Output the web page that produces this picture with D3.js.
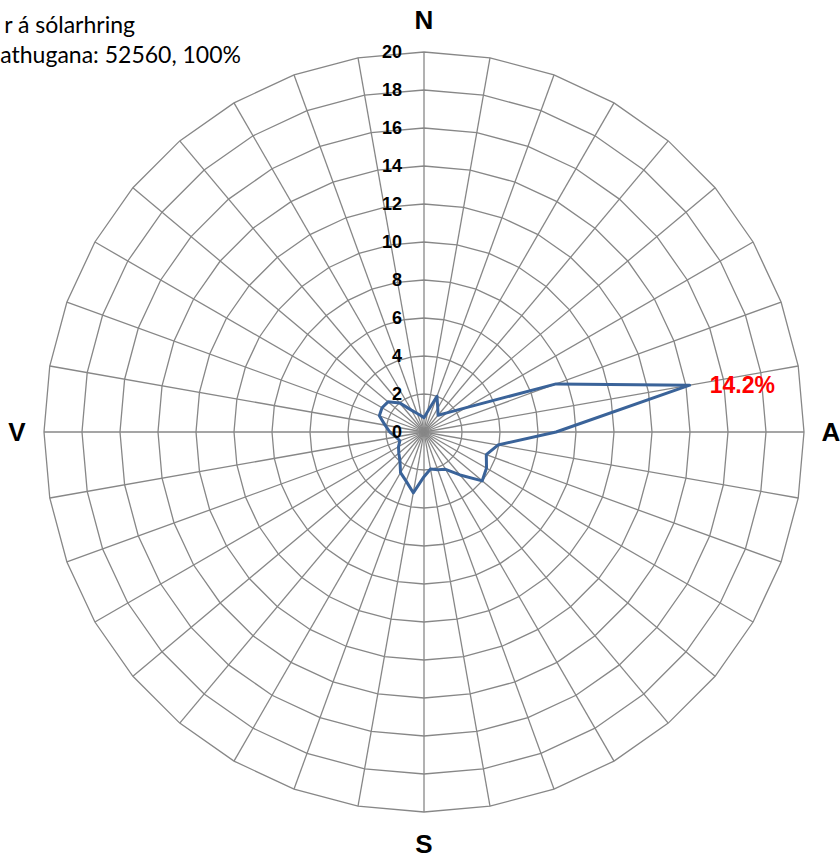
<!DOCTYPE html>
<html><head><meta charset="utf-8">
<script src="https://cdn.jsdelivr.net/npm/d3@7"></script>
<style>body{margin:0;background:#fff;overflow:hidden}</style>
</head><body><svg id="c" width="840" height="861"></svg>
<script>
const categories = ["N","","","","","","","","","A","","","","","","","","","S","","","","","","","","","V","","","","","","","",""];
const values = [0.75,1.1,2.0,1.45,1.15,1.57,2.57,7.4,14.2,6.95,3.95,3.49,3.8,4.0,2.95,2.27,2.11,1.98,2.35,3.25,2.75,2.47,1.97,1.73,1.55,1.35,1.5,1.8,2.08,2.5,2.55,2.47,2.0,1.33,1.04,0.87];
const ticks = [0,2,4,6,8,10,12,14,16,18,20];
const titleLines = ["r á sólarhring","athugana: 52560, 100%"];

const svg = d3.select("#c");
const cx = 424, cy = 432;
const r = d3.scaleLinear().domain([0,20]).range([0,380]);
const ang = d3.scaleLinear().domain([0,categories.length]).range([0,2*Math.PI]);
const idx = d3.range(categories.length);
const g = svg.append("g").attr("transform",`translate(${cx},${cy})`);
const gridColor = "#878787";

// rings
ticks.filter(t=>t>0).forEach(t=>{
  g.append("path")
    .attr("d", d3.lineRadial().angle(i=>ang(i)).radius(r(t)).curve(d3.curveLinearClosed)(idx))
    .attr("fill","none").attr("stroke",gridColor).attr("stroke-width",1.3);
});
// spokes
g.selectAll("line.spoke").data(idx).join("line")
  .attr("x1",0).attr("y1",0)
  .attr("x2",i=>r(20)*Math.sin(ang(i)))
  .attr("y2",i=>-r(20)*Math.cos(ang(i)))
  .attr("stroke",gridColor).attr("stroke-width",1.3);

// data
g.append("path")
  .attr("d", d3.lineRadial().angle((d,i)=>ang(i)).radius(d=>r(d)).curve(d3.curveLinearClosed)(values))
  .attr("fill","none").attr("stroke","#3A6399").attr("stroke-width",3).attr("stroke-linejoin","round");

// tick labels
g.selectAll("text.tick").data(ticks).join("text")
  .attr("x",-22).attr("y",d=>-r(d)).attr("dy","0.36em")
  .attr("text-anchor","end")
  .style("font-family","'Liberation Sans', Arial, sans-serif").style("font-weight","bold").style("font-size","18px")
  .attr("fill","#000").text(d=>d);

// category labels
g.selectAll("text.cat").data(idx.filter(i=>categories[i])).join("text")
  .attr("x",i=>(r(20)+(i%18===0?34:27))*Math.sin(ang(i)))
  .attr("y",i=>-(r(20)+(i%18===0?32:27))*Math.cos(ang(i)))
  .attr("dy","0.36em").attr("text-anchor","middle")
  .style("font-family","'Liberation Sans', Arial, sans-serif").style("font-weight","bold").style("font-size","26px")
  .attr("fill","#000").text(i=>categories[i]);

// peak label
const maxI = d3.maxIndex(values);
g.append("text")
  .attr("x", r(values[maxI])*Math.sin(ang(maxI))+20)
  .attr("y", -r(values[maxI])*Math.cos(ang(maxI)))
  .attr("dy","0.36em")
  .style("font-family","'Liberation Sans', Arial, sans-serif").style("font-weight","bold").style("font-size","23px")
  .attr("fill","#FF0000").text(values[maxI].toFixed(1)+"%");

// title (clipped at left)
svg.selectAll("text.title").data(titleLines).join("text")
  .attr("x",(d,i)=>i===0?135:241).attr("y",(d,i)=>33+i*30)
  .attr("text-anchor","end")
  .style("font-family","Lato, 'Open Sans', sans-serif").style("font-size","23px")
  .attr("fill","#000").text(d=>d);
</script>
</body></html>
